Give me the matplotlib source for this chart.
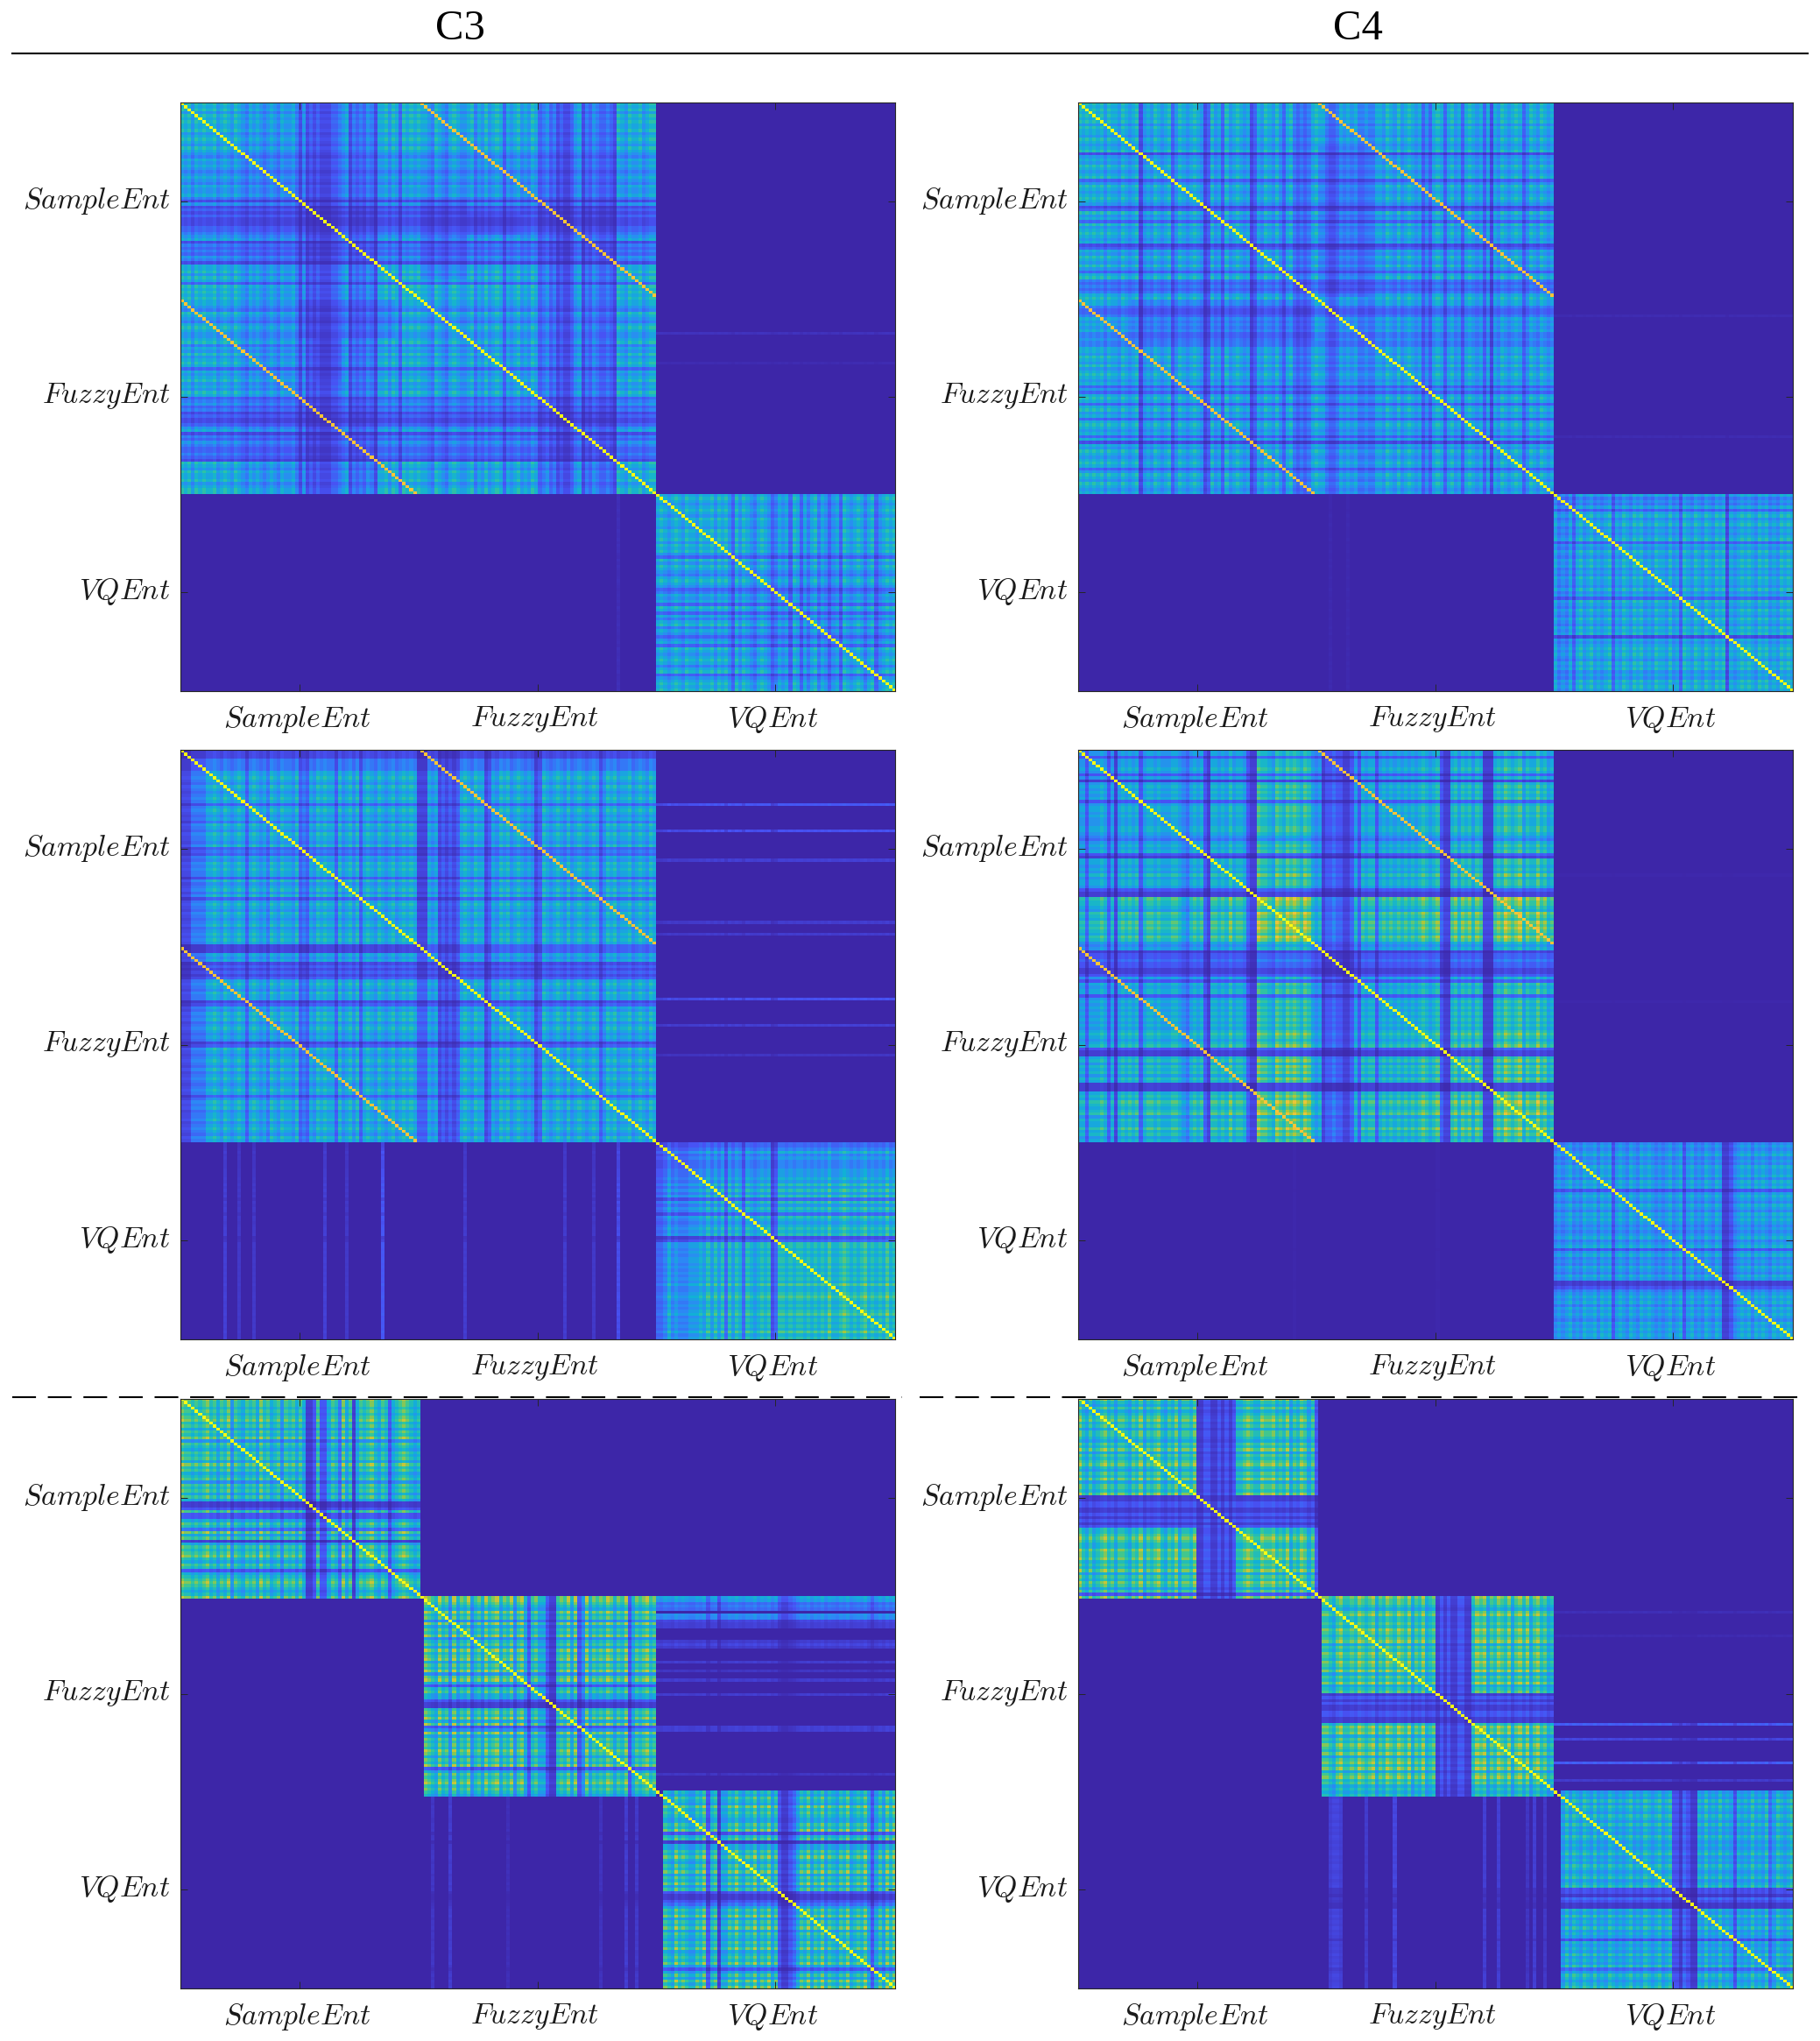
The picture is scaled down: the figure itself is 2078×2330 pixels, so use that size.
import numpy as np
import matplotlib
matplotlib.use("Agg")
import matplotlib.pyplot as plt
from matplotlib.colors import LinearSegmentedColormap
from matplotlib.lines import Line2D
from matplotlib.transforms import ScaledTranslation

plt.rcParams["mathtext.fontset"] = "cm"

W, H = 2078, 2330
N = 200
LABELS = ["SampleEnt", "FuzzyEnt", "VQEnt"]
COLUMN_TITLES = ["C3", "C4"]
TICKS = [33, 99.5, 166]

PARULA = [(0.2422, 0.1504, 0.6603), (0.2810, 0.3228, 0.9579), (0.1786, 0.5289, 0.9682),
          (0.0689, 0.6948, 0.8394), (0.2161, 0.7843, 0.5923), (0.6720, 0.7793, 0.2227),
          (0.9970, 0.7659, 0.2199), (0.9769, 0.9839, 0.0805)]

# Stripe strength, digit per row/column: SampleEnt, FuzzyEnt, VQEnt
C3_TOP = ("6564656556 4565465435 4543454354 4531412121 1122345132 3243155646 5265656",
          "5543654356 5445635464 5652545645 4652342312 1124513243 2232165465 564566",
          "5654565465 5465564656 4264654356 5423545265 2535635424 5265456535 6245656")
C4_TOP = ("6565656465 5465456145 4654562465 4565412645 2645654512 5465464256 3232356",
          "5532235454 5334335546 5464565452 4256525645 2565452515 4654565246 546545",
          "5343525645 6454562546 5465645465 5464526546 5465465615 4565654656 4546565")
C3_MID = ("1113333556 5465456525 6545365465 5462325465 6552645646 2565465456 4565652",
          "2254512121 2565465512 5465645654 5412654565 4645654565 2465645564 565465",
          "2235343334 4454646462 6465265456 5612665656 6565656575 5676565675 6565756")
C4_MID = ("5525556525 1565656256 6565556654 3565621665 6575665211 8776587687 8768754",
          "5122322112 5265662565 6565656567 6567211675 7675761116 7687678576 686756",
          "4545645465 5646562565 4654656545 4564562564 5465465112 4565646565 4656565")
C3_LOW = ("8776767867 5768476576 7586756747 6757511272 2576385715 7678657625 6787656",
          "8876586748 5768467586 7857684785 2675521167 6858248576 7687576825 767867",
          "6576586765 5768267155 7686576857 6857211235 7685768576 5768567685 2575868")
C4_LOW = ("8657567867 5776576857 6786576857 7681122112 1212667876 6877867685 7687572",
          "8776578667 6876785768 7687685768 5671212112 2116878576 8768578685 786756",
          "5657576576 5756576565 6756576567 5672213211 6575657565 2656575657 3576567")

# Faint rows in the right-hand empty blocks and faint columns in the lower-left ones: index, level
C3_TOP_ROWS = [(78, .04), (88, .02)]
C3_TOP_COLS = [(122, .03)]
C4_TOP_ROWS = [(72, .02), (113, .02)]
C4_TOP_COLS = [(70, .015), (75, .015)]
C3_MID_ROWS = [(18, .15), (27, .13), (37, .08), (58, .07), (62, .07), (84, .13), (93, .08), (103, .05)]
C3_MID_COLS = [(12, .08), (16, .06), (20, .06), (40, .08), (46, .06), (56, .15), (79, .07), (107, .07), (115, .06), (122, .12)]
C4_MID_ROWS = [(42, .01), (85, .01)]
C4_MID_COLS = [(60, .01), (100, .01)]
C3_LOW_ROWS = [(67, .38), (68, .34), (69, .2), (70, .24), (71, .2), (73, .3), (74, .28), (75, .1), (76, .08), (77, .08),
               (82, .07), (83, .1), (84, .07), (89, .07), (92, .05), (95, .07), (100, .07), (111, .08), (112, .08), (127, .05)]
C3_LOW_COLS = [(70, .05), (75, .07), (91, .03), (117, .04), (124, .07), (127, .06)]
C4_LOW_ROWS = [(72, .03), (80, .02), (110, .17), (115, .1), (123, .17), (129, .07)]
C4_LOW_COLS = [(70, .08), (71, .1), (72, .1), (73, .08), (80, .07), (88, .1), (113, .08), (117, .08), (125, .05), (127, .08), (130, .06)]

# Blocks darker or brighter than their stripes alone: rows, columns, factor
C3_TOP_PATCHES = [(38, 45, 67, 95, .75), (67, 80, 33, 60, .75)]
C4_TOP_PATCHES = [(67, 81, 15, 66, .75)]
C3_MID_PATCHES = [(66, 69, 0, 66, .55)]
C4_MID_PATCHES = []
C3_LOW_PATCHES = []
C4_LOW_PATCHES = [(33, 44, 33, 44, 4.0), (100, 110, 100, 110, 4.0)]
# Shift of the digits for panels whose stripes were read on a brighter scale
OFFSETS = [0, 0, 0, -0.4, -0.7, -0.7]

PANELS = [
    (C3_TOP, C3_TOP_ROWS, C3_TOP_COLS, C3_TOP_PATCHES, False),
    (C4_TOP, C4_TOP_ROWS, C4_TOP_COLS, C4_TOP_PATCHES, False),
    (C3_MID, C3_MID_ROWS, C3_MID_COLS, C3_MID_PATCHES, False),
    (C4_MID, C4_MID_ROWS, C4_MID_COLS, C4_MID_PATCHES, False),
    (C3_LOW, C3_LOW_ROWS, C3_LOW_COLS, C3_LOW_PATCHES, True),
    (C4_LOW, C4_LOW_ROWS, C4_LOW_COLS, C4_LOW_PATCHES, True),
]


def build(strings, rows, cols, patches, separate, offset):
    digits = "".join(strings).replace(" ", "")
    digits = digits[:N].ljust(N, "5")
    d = np.array([int(c) for c in digits], float) + offset
    p = np.clip(0.62 + 0.11 * (d - 5), 0.1, 1.0)
    full = np.minimum(np.outer(p, p), 0.85)
    m = np.zeros((N, N))
    if separate:
        blocks = [(0, 68, 0, 67), (67, 135, 68, 133), (133, 200, 135, 200)]
    else:
        blocks = [(0, 133, 0, 133), (133, 200, 133, 200)]
    for r0, r1, c0, c1 in blocks:
        m[r0:r1, c0:c1] = full[r0:r1, c0:c1]
    empty = m == 0
    upper = np.triu(np.ones((N, N), bool))
    mod = np.sqrt(p / 0.62)
    for i, level in rows:
        mask = empty[i, :] & upper[i, :]
        m[i, mask] = level * mod[mask]
    for j, level in cols:
        mask = empty[:, j] & ~upper[:, j]
        m[mask, j] = level * mod[mask]
    for r0, r1, c0, c1, f in patches:
        m[r0:r1, c0:c1] = np.minimum(full[r0:r1, c0:c1] * f, 0.55)
        m[c0:c1, r0:r1] = np.minimum(full[c0:c1, r0:r1] * f, 0.55)
    idx = np.arange(N)
    if not separate:
        shift = idx[:133 - 67]
        m[shift, shift + 67] = 0.86
        m[shift + 67, shift] = 0.86
    m[idx, idx] = 1.0
    return m


cmap = LinearSegmentedColormap.from_list("parula_like", PARULA)
fig = plt.figure(figsize=(W / 100, H / 100), dpi=100, facecolor="white")

xs = [(205.5, 1022), (1230.5, 2047)]
ys = [(117, 789), (856, 1529), (1597, 2270)]
FS = 24.2

for k, panel in enumerate(PANELS):
    x0, x1 = xs[k % 2]
    y0, y1 = ys[k // 2]
    ax = fig.add_axes([x0 / W, 1 - y1 / H, (x1 - x0) / W, (y1 - y0) / H])
    ax.imshow(build(*panel, OFFSETS[k]), cmap=cmap, vmin=0, vmax=1, aspect="auto", interpolation="nearest")
    ax.set_xticks(TICKS)
    ax.set_yticks(TICKS)
    ax.set_xticklabels([rf"$\mathit{{{s}}}$" for s in LABELS], fontsize=FS, color="#1a1a1a")
    ax.set_yticklabels([rf"$\mathit{{{s}}}$" for s in LABELS], fontsize=FS, color="#1a1a1a")
    ax.tick_params(direction="in", length=5.5, width=0.7, top=True, right=True, color="#262626")
    ax.tick_params(axis="x", pad=11)
    ax.tick_params(axis="y", pad=8)
    shift_up = ScaledTranslation(0, 5 / 100, fig.dpi_scale_trans)
    shift_left = ScaledTranslation(-3 / 100, 0, fig.dpi_scale_trans)
    for lab in ax.get_yticklabels():
        lab.set_transform(lab.get_transform() + shift_up)
    for lab in ax.get_xticklabels():
        lab.set_transform(lab.get_transform() + shift_left)
    for s in ax.spines.values():
        s.set_linewidth(0.8)
        s.set_color("#262626")

for title, cx in zip(COLUMN_TITLES, [525, 1550]):
    fig.text(cx / W, 1 - 33 / H, title, ha="center", va="center", fontsize=35,
             family=["Liberation Serif"], color="black")

fig.add_artist(Line2D([14 / W, 2064 / W], [1 - 60.5 / H] * 2, color="black", lw=1.5))
for a, b in [(14, 1030), (1050, 2064)]:
    fig.add_artist(Line2D([a / W, b / W], [1 - 1595 / H] * 2, color="black", lw=1.5,
                          linestyle=(0, (13, 6.5)), zorder=5))

fig.savefig("out.png", dpi=100, facecolor="white")
